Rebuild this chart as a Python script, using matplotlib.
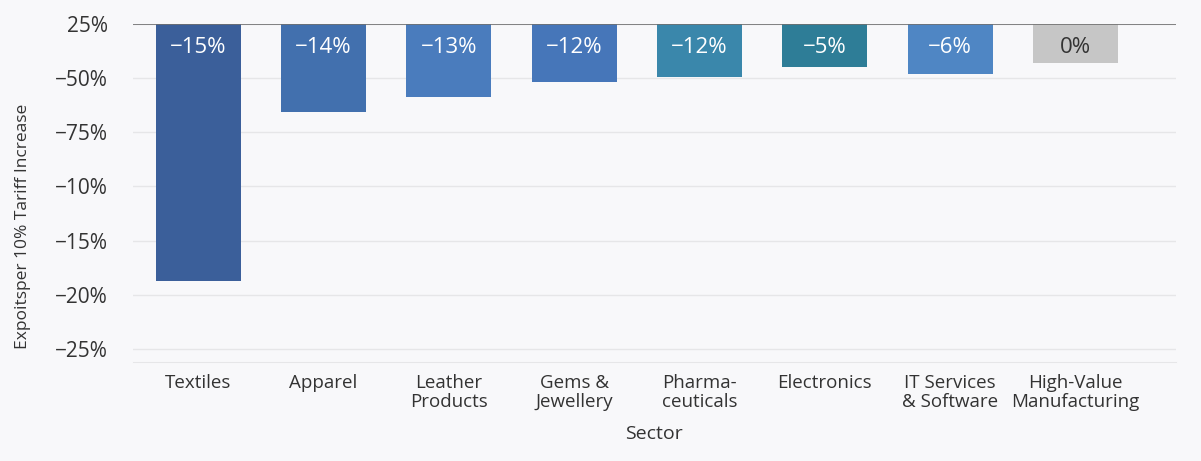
import matplotlib
matplotlib.use("Agg")
import matplotlib.pyplot as plt

# categories and bar depths (in grid steps below the top line)
SECTORS = ["Textiles", "Apparel", "Leather\nProducts", "Gems &\nJewellery",
           "Pharma-\nceuticals", "Electronics", "IT Services\n& Software",
           "High-Value\nManufacturing"]
DEPTH = [-4.74, -1.62, -1.35, -1.07, -0.98, -0.79, -0.93, -0.72]
BAR_LABELS = ["−15%", "−14%", "−13%", "−12%", "−12%", "−5%", "−6%", "0%"]
COLORS = ["#3b5f9a", "#4270ae", "#4a7cbd", "#4676b9", "#3a87ab", "#2e7d97",
          "#4f86c4", "#c6c6c6"]
YTICK_POS = [0, -1, -2, -3, -4, -5, -6]
YTICK_LABELS = ["25%", "−50%", "−75%", "−10%", "−15%", "−20%", "−25%"]

BG = "#f8f8fa"
plt.rcParams["font.family"] = ["Open Sans", "DejaVu Sans"]

fig = plt.figure(figsize=(12.01, 4.61), dpi=100, facecolor=BG)
ax = fig.add_axes([0.1107, 0.2148, 0.979 - 0.1107, 0.948 - 0.2148], facecolor=BG)

x = range(len(SECTORS))
bars = ax.bar(x, DEPTH, width=0.68, color=COLORS, zorder=3)
for i, b in enumerate(bars):
    tc = "#333333" if i == len(bars) - 1 else "white"
    ax.text(b.get_x() + b.get_width() / 2, -0.44, BAR_LABELS[i], ha="center",
            va="center", color=tc, fontsize=16, zorder=4)

ax.set_xlim(-0.52, 7.8)
ax.set_ylim(-6.24, 0)
ax.set_yticks(YTICK_POS)
ax.set_yticklabels(YTICK_LABELS, fontsize=15, color="#333333")
ax.set_xticks(list(x))
ax.set_xticklabels(SECTORS, fontsize=13.5, color="#333333", linespacing=1.05)
ax.tick_params(length=0, pad=9)
ax.tick_params(axis="y", pad=18)
ax.grid(axis="y", color="#e6e6e8", lw=1, zorder=0)
ax.axhline(0, color="#707070", lw=1.2, zorder=5)
for s in ("left", "right", "top"):
    ax.spines[s].set_visible(False)
ax.spines["bottom"].set_color("#e6e6e8")

ax.set_xlabel("Sector", fontsize=14, color="#333333", labelpad=10)
fig.text(0.019, 0.51, "Expoitsper 10% Tariff Increase", rotation=90, ha="center",
         va="center", fontsize=12.5, color="#333333")

fig.savefig("out.png", dpi=100, facecolor=BG)
